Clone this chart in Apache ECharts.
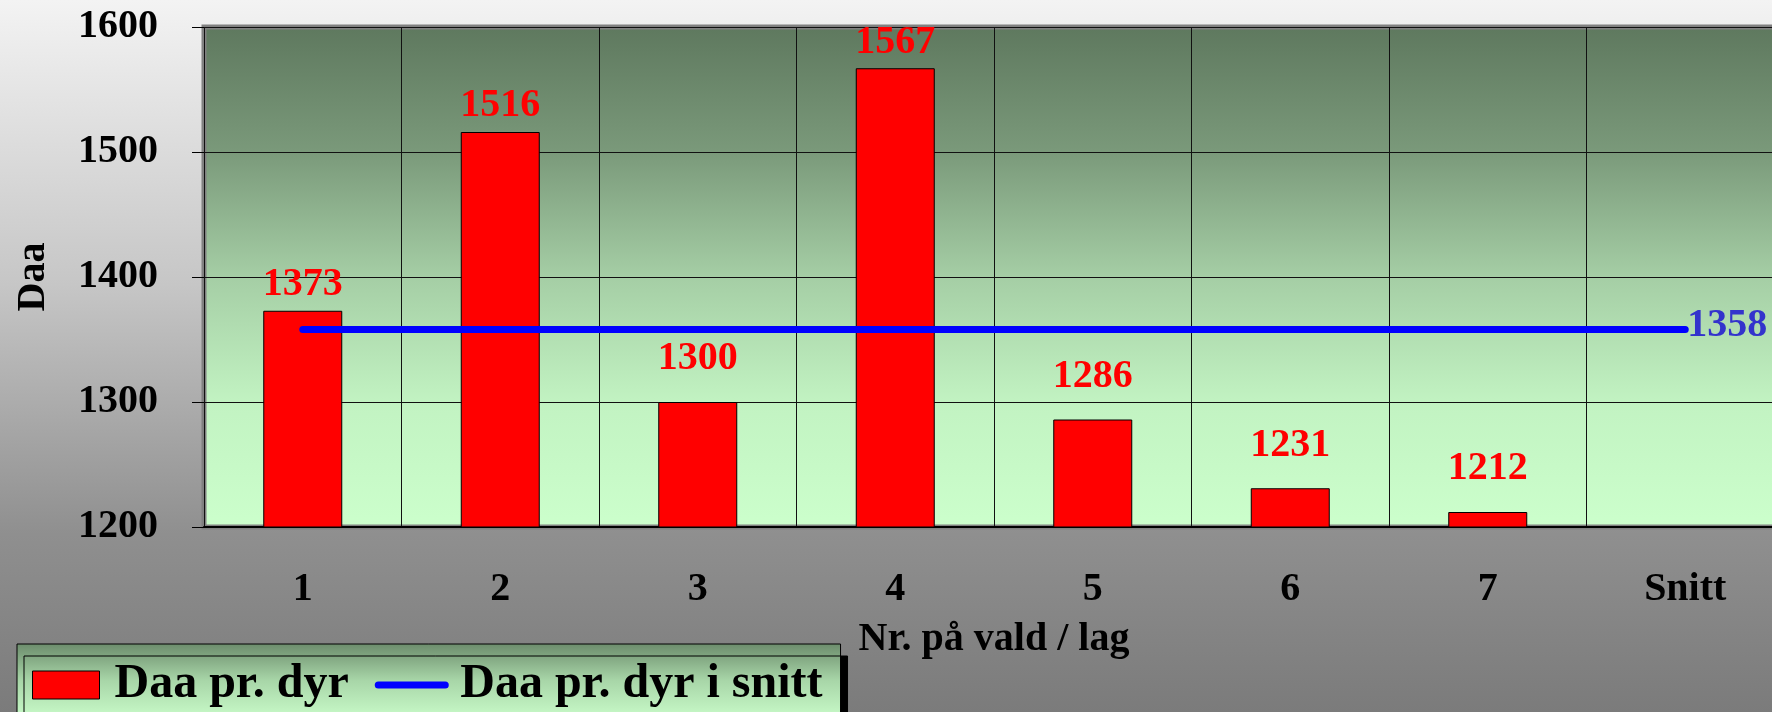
<!DOCTYPE html>
<html>
<head>
<meta charset="utf-8">
<script src="https://cdn.jsdelivr.net/npm/echarts@6/dist/echarts.min.js"></script>
<style>
html,body{margin:0;padding:0;overflow:hidden;width:1772px;height:712px;}
#chart{width:1800px;height:712px;}
</style>
</head>
<body>
<div id="chart"></div>
<script>
// ---- data ----
const categories = ['1', '2', '3', '4', '5', '6', '7', 'Snitt'];
const daaPrDyr = [1373, 1516, 1300, 1567, 1286, 1231, 1212, null];
const daaPrDyrSnitt = [1358, 1358, 1358, 1358, 1358, 1358, 1358, 1358];
const yMin = 1200, yMax = 1600, yInterval = 100;
const seriesNames = ['Daa pr. dyr', 'Daa pr. dyr i snitt'];
const xTitle = 'Nr. på vald / lag';
const yTitle = 'Daa';

// ---- chart ----
const FONT = "'Liberation Serif', 'Times New Roman', serif";
const chart = echarts.init(document.getElementById('chart'), null, {renderer: 'canvas'});
const avg = daaPrDyrSnitt[daaPrDyrSnitt.length - 1];
const LG = (stops) => new echarts.graphic.LinearGradient(0, 0, 0, 1, stops.map(c => ({offset: c[0], color: c[1]})));

const barData = daaPrDyr.map(v => v == null ? '-' : {value: v, label: {distance: v > avg ? 6 : 23}});

chart.setOption({
  backgroundColor: LG([[0, '#f3f3f3'], [0.4, '#c6c6c6'], [0.75, '#8f8f8f'], [1, '#7b7b7b']]),
  animation: false,
  textStyle: {fontFamily: FONT},
  grid: {
    left: 204, top: 27, width: 1580, height: 500,
    show: true,
    backgroundColor: LG([[0, '#5e785e'], [0.25, '#7a997a'], [0.5, '#a5cea5'], [0.75, '#c2f3c2'], [1, '#ccffcc']]),
    borderColor: '#808080', borderWidth: 5
  },
  legend: {
    left: 17, top: 644,
    orient: 'horizontal',
    padding: [17, 18, 40, 15],
    itemWidth: 67, itemHeight: 28, itemGap: 26,
    backgroundColor: LG([[0, '#6c8c6c'], [0.35, '#a8d6a8'], [0.7, '#c8fac8'], [1, '#ccffcc']]),
    borderColor: '#000', borderWidth: 1,
    shadowColor: '#000', shadowBlur: 0, shadowOffsetX: 7, shadowOffsetY: 12,
    textStyle: {fontFamily: FONT, fontSize: 48, fontWeight: 'bold', color: '#000', padding: [0, 0, 0, 10]},
    data: [
      {name: seriesNames[0], icon: 'rect', itemStyle: {color: '#ff0000', borderColor: '#000', borderWidth: 1}},
      {name: seriesNames[1], itemStyle: {opacity: 0}, lineStyle: {color: '#0000ff', width: 7, cap: 'round'}}
    ]
  },
  xAxis: {
    type: 'category',
    data: categories,
    boundaryGap: true,
    name: xTitle,
    nameLocation: 'middle',
    nameGap: 93,
    nameTextStyle: {fontFamily: FONT, fontSize: 40, fontWeight: 'bold', color: '#000', verticalAlign: 'top'},
    axisLine: {show: true, lineStyle: {color: '#000', width: 2}},
    axisTick: {show: false},
    axisLabel: {fontFamily: FONT, fontSize: 40, fontWeight: 'bold', color: '#000', margin: 43},
    splitLine: {show: true, lineStyle: {color: '#111', width: 1}}
  },
  yAxis: {
    type: 'value',
    min: yMin, max: yMax, interval: yInterval,
    name: yTitle,
    nameLocation: 'middle',
    nameGap: 150,
    nameRotate: 90,
    nameTextStyle: {fontFamily: FONT, fontSize: 40, fontWeight: 'bold', color: '#000'},
    axisLine: {show: false},
    axisTick: {show: true, length: 12, lineStyle: {color: '#000', width: 1}},
    axisLabel: {fontFamily: FONT, fontSize: 40, fontWeight: 'bold', color: '#000', margin: 46, formatter: v => String(v)},
    splitLine: {show: true, lineStyle: {color: '#111', width: 1}}
  },
  series: [
    {
      name: seriesNames[0],
      type: 'bar',
      data: barData,
      barWidth: '40%',
      itemStyle: {color: '#ff0000', borderColor: '#000', borderWidth: 1},
      label: {show: true, position: 'top', color: '#ff0000', fontFamily: FONT, fontSize: 40, fontWeight: 'bold'},
      z: 2
    },
    {
      name: seriesNames[1],
      type: 'line',
      data: daaPrDyrSnitt,
      symbol: 'none',
      showSymbol: false,
      lineStyle: {color: '#0000ff', width: 7, cap: 'round'},
      itemStyle: {color: '#0000ff'},
      endLabel: {show: true, formatter: p => String(p.value), distance: 2, offset: [0, -4], color: '#3333cc', fontFamily: FONT, fontSize: 40, fontWeight: 'bold'},
      z: 3
    }
  ]
});
</script>
</body>
</html>
